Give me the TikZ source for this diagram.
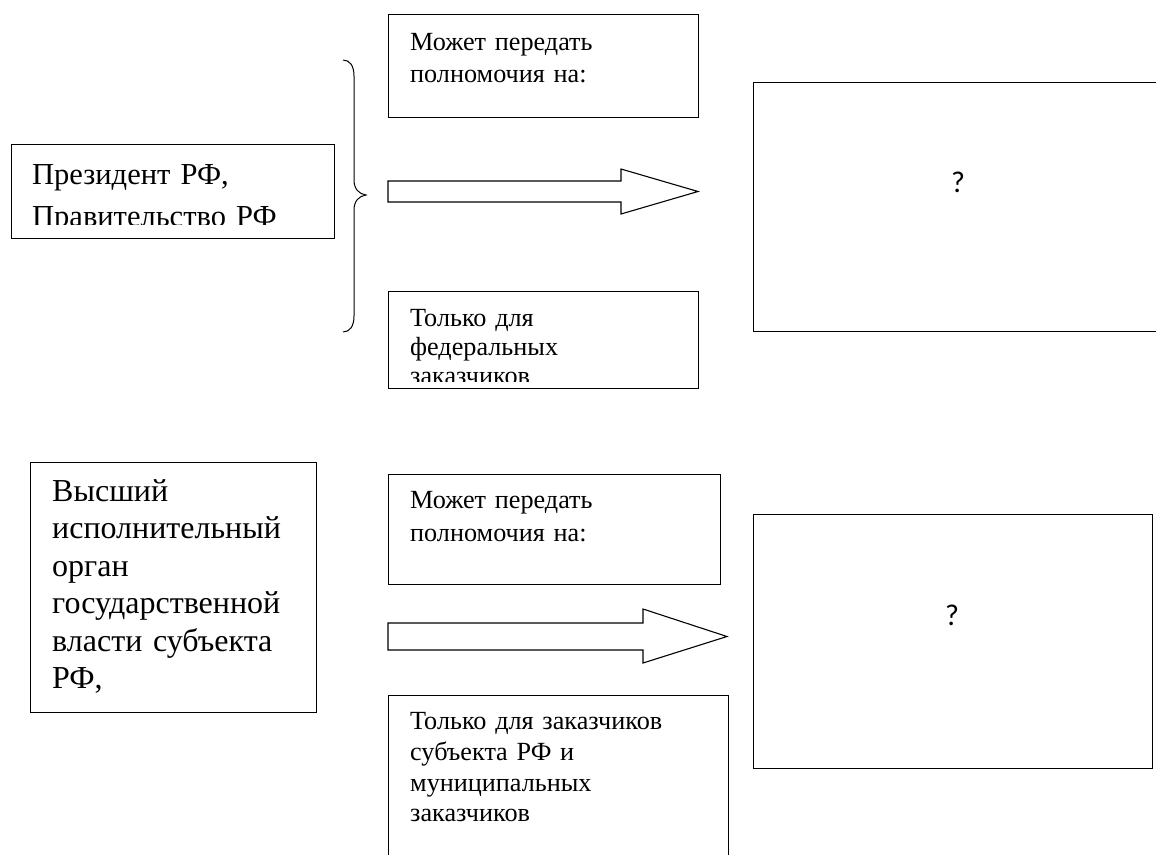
\documentclass[tikz,border=0pt]{standalone}
\usepackage{fontspec}
\setmainfont{Liberation Serif}
\newfontfamily\askfont{Carlito}
\begin{document}
\begin{tikzpicture}[x=1pt,y=-1pt,
  boxframe/.style={draw,line width=1.1pt,anchor=north west,inner sep=0pt},
  askframe/.style={boxframe,line width=1.4pt},
  txt/.style={anchor=base west,inner sep=0pt,align=left,text width=#1},
  bigtxt/.style={font=\fontsize{30.5}{42}\selectfont},
  midtxt/.style={font=\fontsize{32}{37.5}\selectfont},
  smalltxt/.style={font=\fontsize{26.2}{#1}\selectfont},
  asktxt/.style={font=\askfont\fontsize{30}{36}\selectfont,inner sep=0pt},
  blockarrow/.style={draw,line width=1.1pt,line join=miter}]

\useasboundingbox (0,0) rectangle (1156,854);

% Upper row
\node[boxframe,minimum width=323,minimum height=94] (pres) at (11,144) {};
\begin{scope}
  \clip (11,144) rectangle (334,224);
  \node[txt=300,bigtxt] (presText) at (32,184) {Президент РФ,\\Правительство РФ};
\end{scope}

% Brace
\draw[line width=1pt] (343,60) .. controls (350,60) and (354,66) .. (354,76)
  -- (354,180) .. controls (354,189) and (359,194) .. (366,195)
  .. controls (359,196) and (354,201) .. (354,210)
  -- (354,316) .. controls (354,326) and (350,332) .. (343,332);

\node[boxframe,minimum width=310,minimum height=103] (mayTop) at (388,14) {};
\node[txt=280,smalltxt=32] (mayTopText) at (410,50) {Может передать\\полномочия на:};

\draw[blockarrow] (388,181) -- (621,181) -- (621,169) -- (698,191.5)
  -- (621,214) -- (621,202) -- (388,202) -- cycle;

\node[boxframe,minimum width=310,minimum height=97] (fedOnly) at (388,291) {};
\begin{scope}
  \clip (388,291) rectangle (698,381);
  \node[txt=280,smalltxt=29] (fedOnlyText) at (410,326) {Только для\\федеральных\\заказчиков};
\end{scope}

\node[askframe,minimum width=410,minimum height=249] (askTop) at (753,82) {};
\node[asktxt] (askTopText) at (958,182) {?};

% Lower row
\node[boxframe,minimum width=286,minimum height=250] (subj) at (30,462) {};
\node[txt=270,midtxt] (subjText) at (52,501) {Высший\\исполнительный\\орган\\государственной\\власти субъекта\\РФ,};

\node[boxframe,minimum width=332,minimum height=110] (mayLow) at (388,474) {};
\node[txt=300,smalltxt=33] (mayLowText) at (410,508.5) {Может передать\\полномочия на:};

\draw[blockarrow] (388,623) -- (643,623) -- (643,609) -- (727,636.5)
  -- (643,663) -- (643,650) -- (388,650) -- cycle;

\node[boxframe,minimum width=340,minimum height=175] (munOnly) at (388,695) {};
\node[txt=320,smalltxt=30.8] (munOnlyText) at (410,729.5) {Только для заказчиков\\субъекта РФ и\\муниципальных\\заказчиков};

\node[askframe,minimum width=399,minimum height=254] (askLow) at (753,514) {};
\node[asktxt] (askLowText) at (952,615) {?};
\end{tikzpicture}
\end{document}
